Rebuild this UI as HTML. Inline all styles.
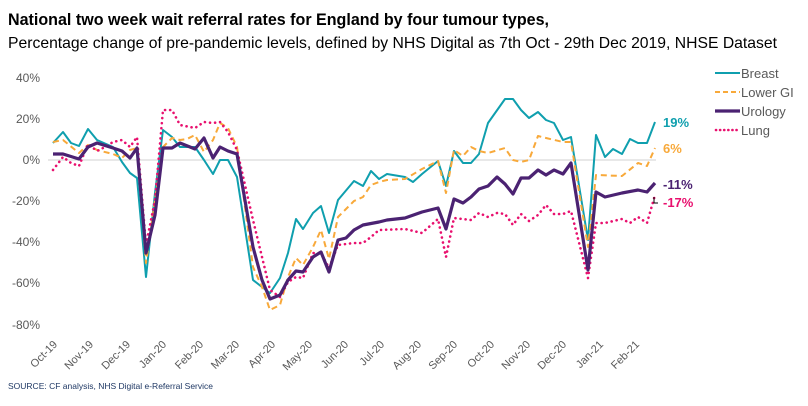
<!DOCTYPE html>
<html><head><meta charset="utf-8"><style>
body{margin:0;background:#fff;}
svg text{font-family:"Liberation Sans",sans-serif;}
</style></head><body>
<svg width="808" height="401" viewBox="0 0 808 401" xmlns="http://www.w3.org/2000/svg">
<text x="8" y="25" font-size="17" font-weight="bold" fill="#000" textLength="541" lengthAdjust="spacingAndGlyphs">National two week wait referral rates for England by four tumour types,</text>
<text x="8" y="48" font-size="16" fill="#000" textLength="769" lengthAdjust="spacingAndGlyphs">Percentage change of pre-pandemic levels, defined by NHS Digital as 7th Oct - 29th Dec 2019, NHSE Dataset</text>
<g font-size="12" fill="#595959" text-anchor="end">
<text x="40" y="82">40%</text><text x="40" y="123">20%</text><text x="40" y="164">0%</text>
<text x="40" y="205">-20%</text><text x="40" y="246">-40%</text><text x="40" y="287">-60%</text><text x="40" y="329">-80%</text>
</g>
<line x1="48" y1="160" x2="656" y2="160" stroke="#d0d0d0" stroke-width="1"/>
<g font-size="11" fill="#595959" text-anchor="end">
<text transform="translate(58,345) rotate(-45)">Oct-19</text>
<text transform="translate(94,345) rotate(-45)">Nov-19</text>
<text transform="translate(131,345) rotate(-45)">Dec-19</text>
<text transform="translate(167,345) rotate(-45)">Jan-20</text>
<text transform="translate(204,345) rotate(-45)">Feb-20</text>
<text transform="translate(240,345) rotate(-45)">Mar-20</text>
<text transform="translate(276,345) rotate(-45)">Apr-20</text>
<text transform="translate(313,345) rotate(-45)">May-20</text>
<text transform="translate(349,345) rotate(-45)">Jun-20</text>
<text transform="translate(385,345) rotate(-45)">Jul-20</text>
<text transform="translate(422,345) rotate(-45)">Aug-20</text>
<text transform="translate(458,345) rotate(-45)">Sep-20</text>
<text transform="translate(495,345) rotate(-45)">Oct-20</text>
<text transform="translate(531,345) rotate(-45)">Nov-20</text>
<text transform="translate(567,345) rotate(-45)">Dec-20</text>
<text transform="translate(604,345) rotate(-45)">Jan-21</text>
<text transform="translate(640,345) rotate(-45)">Feb-21</text>
</g>
<text x="8" y="389" font-size="8.5" fill="#1f3864">SOURCE: CF analysis, NHS Digital e-Referral Service</text>
<g fill="none" stroke-linejoin="round">
<polyline stroke="#0f9fae" stroke-width="2" points="53,143 63,132 71,143 79,146 88,129 97,140 113,147 122,162 130,173 137,178 146,277 155,193 163,130 172,137 180,147 195,147 204,160 213,174 220,160 228,160 237,177 253,280 262,287 270,293 280,278 288,253 296,219 303,229 313,213 321,206 329,233 338,200 354,181 363,186 371,171 379,179 387,174 405,177 413,182 422,174 438,161 446,186 454,151 463,163 471,163 479,154 488,123 505,99 513,99 521,110 529,118 538,112 546,120 554,123 563,140 571,137 588,240 596,135 605,157 613,149 622,154 630,139 638,143 647,143 655,122"/>
<polyline stroke="#f8a93a" stroke-width="2" stroke-dasharray="6,4" points="53,142 63,140 79,153 88,145 97,150 113,154 122,158 130,150 137,148 146,263 155,200 163,147 172,138 180,140 187,139 195,135 204,152 213,140 220,123 228,128 237,147 253,267 262,287 270,310 280,305 288,277 296,258 303,265 313,247 321,230 329,259 338,217 354,201 363,197 371,185 379,182 387,180 405,179 422,169 438,161 446,193 454,150 463,156 471,147 479,151 488,153 505,148 513,160 521,162 529,160 538,136 546,138 563,142 571,142 588,247 596,175 622,176 638,163 647,166 655,148"/>
<polyline stroke="#e8106e" stroke-width="2.6" stroke-dasharray="0.1,5" stroke-linecap="round" points="53,170 63,157 71,163 79,166 88,144 97,151 105,147 113,142 122,140 130,147 137,137 146,245 155,200 163,110 172,110 180,125 195,128 204,122 213,123 220,122 228,132 237,150 253,220 262,257 270,290 280,297 288,282 296,277 303,278 313,253 321,253 329,268 338,245 354,243 363,243 371,237 379,230 405,229 422,233 438,219 446,257 454,218 471,220 479,213 488,217 497,213 505,214 513,225 521,214 529,221 538,215 546,205 554,214 563,214 571,211 588,278 596,223 605,223 622,219 630,223 638,217 647,223 655,195"/>
<polyline stroke="#4b2272" stroke-width="3.2" points="53,154 63,154 79,159 88,147 97,143 113,148 122,151 130,158 137,148 146,253 155,215 163,148 172,148 180,143 195,149 204,138 213,158 220,147 228,151 237,154 253,247 262,280 270,299 280,295 288,280 296,271 303,272 313,257 321,252 329,272 338,240 346,238 354,230 363,225 379,222 387,220 405,218 422,212 438,208 446,229 454,199 463,203 471,197 479,189 488,186 497,177 505,184 513,194 521,178 529,178 538,170 546,175 554,170 563,174 571,163 588,270 596,192 605,197 622,193 638,190 647,192 655,183"/>
</g>
<path d="M654,197 L654,203 L658,203" stroke="#000" stroke-width="1" fill="none"/>
<g font-size="13" font-weight="bold">
<text x="663" y="127" fill="#0f9fae">19%</text>
<text x="663" y="153" fill="#f8a93a">6%</text>
<text x="663" y="189" fill="#4b2272">-11%</text>
<text x="663" y="207" fill="#e8106e">-17%</text>
</g>
<g font-size="13" fill="#595959">
<line x1="715" y1="73" x2="740" y2="73" stroke="#0f9fae" stroke-width="2"/>
<text x="741" y="78">Breast</text>
<line x1="715" y1="92" x2="740" y2="92" stroke="#f8a93a" stroke-width="2" stroke-dasharray="5,3"/>
<text x="741" y="97">Lower GI</text>
<line x1="715" y1="111" x2="740" y2="111" stroke="#4b2272" stroke-width="3.2"/>
<text x="741" y="116">Urology</text>
<line x1="716" y1="130" x2="740" y2="130" stroke="#e8106e" stroke-width="2.6" stroke-dasharray="0.1,4" stroke-linecap="round"/>
<text x="741" y="135">Lung</text>
</g>
</svg>
</body></html>
